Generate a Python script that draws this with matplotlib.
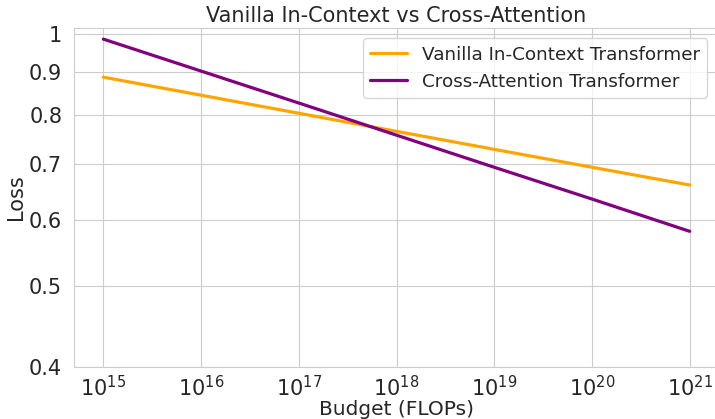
import matplotlib
matplotlib.use("Agg")
import matplotlib.pyplot as plt
import seaborn as sns
from matplotlib.ticker import FixedLocator, FixedFormatter, NullLocator

budget = [1e15, 1e16, 1e17, 1e18, 1e19, 1e20, 1e21]
loss_vanilla = [0.888, 0.845, 0.804, 0.765, 0.728, 0.693, 0.660]
loss_cross = [0.986, 0.903, 0.827, 0.757, 0.693, 0.635, 0.581]
xticklabels = [r"$10^{%d}$" % e for e in range(15, 22)]
yticks = [0.4, 0.5, 0.6, 0.7, 0.8, 0.9, 1.0]
yticklabels = ["0.4", "0.5", "0.6", "0.7", "0.8", "0.9", "1"]

sns.set_style("whitegrid")
plt.rcParams['font.family'] = ['DejaVu Sans']

fig = plt.figure(figsize=(7.15, 4.19), dpi=100)
ax = fig.add_axes([74/715, 1 - 367/419, (719 - 74)/715, (367 - 28)/419])

ax.plot(budget, loss_vanilla, color='orange', lw=2.3, label='Vanilla In-Context Transformer')
ax.plot(budget, loss_cross, color='purple', lw=2.3, label='Cross-Attention Transformer')

ax.set_xscale('log')
ax.set_yscale('log')
ax.set_xlim(10**14.7, 10**21.3)
ax.set_ylim(0.4, 1.0166)
ax.xaxis.set_major_locator(FixedLocator(budget))
ax.xaxis.set_major_formatter(FixedFormatter(xticklabels))
ax.yaxis.set_major_locator(FixedLocator(yticks))
ax.yaxis.set_major_formatter(FixedFormatter(yticklabels))
ax.yaxis.set_minor_locator(NullLocator())
ax.xaxis.set_minor_locator(NullLocator())
ax.tick_params(labelsize=15, pad=5)
ax.tick_params(axis='x', pad=2)

ax.set_title('Vanilla In-Context vs Cross-Attention', fontsize=15, color='#262626', pad=4)
ax.set_xlabel('Budget (FLOPs)', fontsize=14.5, labelpad=0)
ax.set_ylabel('Loss', fontsize=15, labelpad=2)
ax.legend(loc='upper right', fontsize=13.2, bbox_to_anchor=(0.996, 0.997))

fig.savefig('out.png', dpi=100)
